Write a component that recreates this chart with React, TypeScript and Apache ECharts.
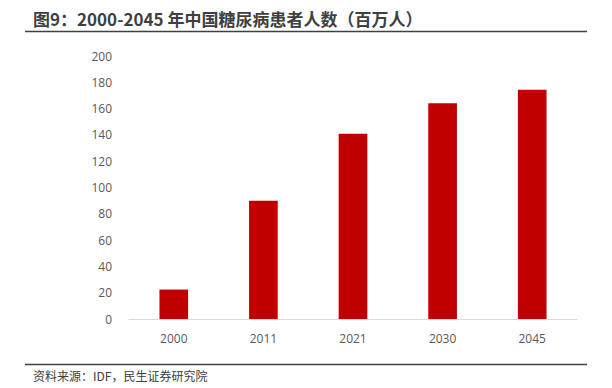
import React, { useEffect, useRef } from "react";
import * as echarts from "echarts";

const categories = ["2000", "2011", "2021", "2030", "2045"];
const patients = [22.4, 90.0, 140.9, 164.1, 174.4];
const titleText = "图9：2000-2045 年中国糖尿病患者人数（百万人）";
const sourceText = "资料来源：IDF，民生证券研究院";

export default function App() {
  const ref = useRef<HTMLDivElement>(null);
  useEffect(() => {
    if (!ref.current) return;
    const chart = echarts.init(ref.current, null, { renderer: "svg" });
    chart.setOption({
      animation: false,
      backgroundColor: "#ffffff",
      grid: { left: 129, right: 35, top: 56, bottom: 69 },
      xAxis: {
        type: "category",
        data: categories,
        axisLine: { lineStyle: { color: "#d9d9d9", width: 1 } },
        axisTick: { show: false },
        axisLabel: { color: "#595959", fontSize: 12, margin: 13, fontFamily: "Open Sans, Noto Sans, sans-serif" },
      },
      yAxis: {
        type: "value",
        min: 0,
        max: 200,
        interval: 20,
        splitLine: { show: false },
        axisLine: { show: false },
        axisTick: { show: false },
        axisLabel: { color: "#595959", fontSize: 12, margin: 17, fontFamily: "Open Sans, Noto Sans, sans-serif" },
      },
      series: [
        {
          type: "bar",
          data: patients,
          barWidth: "32%",
          itemStyle: { color: "#c00000" },
        },
      ],
      graphic: [
        {
          type: "text",
          left: 33,
          top: 10,
          style: {
            text: titleText,
            fontSize: 17,
            fontWeight: "bold",
            fill: "#3f3f3f",
            fontFamily: "Noto Sans CJK SC, sans-serif",
          },
        },
        {
          type: "line",
          shape: { x1: 25, y1: 31.5, x2: 587, y2: 31.5 },
          style: { stroke: "#404040", lineWidth: 1.5 },
        },
        {
          type: "line",
          shape: { x1: 25, y1: 364.5, x2: 587, y2: 364.5 },
          style: { stroke: "#404040", lineWidth: 1.5 },
        },
        {
          type: "text",
          left: 33,
          top: 369,
          style: {
            text: sourceText,
            fontSize: 12,
            fill: "#404040",
            fontFamily: "Noto Sans CJK SC, sans-serif",
          },
        },
      ],
    });
    return () => chart.dispose();
  }, []);
  return <div ref={ref} style={{ width: 612, height: 388, position: "fixed", left: 0, top: 0 }} />;
}
